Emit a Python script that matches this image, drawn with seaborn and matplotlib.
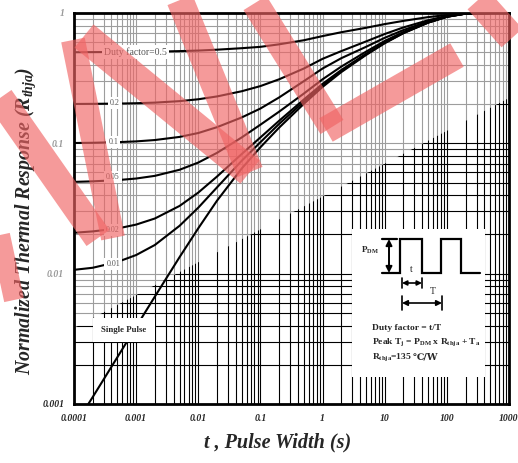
import numpy as np
import pandas as pd
import matplotlib
matplotlib.use('Agg')
import matplotlib.pyplot as plt
import seaborn as sns
from matplotlib.lines import Line2D
from matplotlib.patches import Polygon
from matplotlib.ticker import FixedLocator, LogLocator, NullFormatter

# pulse width grid (s)
t_grid = [1e-4, 2e-4, 5e-4, 1e-3, 2e-3, 5e-3, 1e-2, 2e-2, 5e-2, 0.1, 0.2, 0.5,
          1, 2, 5, 10, 20, 50, 100, 200, 500]

# normalized thermal response
d050 = [0.500, 0.501, 0.502, 0.503, 0.505, 0.510, 0.515, 0.523, 0.537, 0.550, 0.575, 0.618,
        0.665, 0.712, 0.770, 0.822, 0.870, 0.930, 0.965, 0.990, 1.0]
d020 = [0.2005, 0.2009, 0.2018, 0.2031, 0.2053, 0.2107, 0.2178, 0.229, 0.251, 0.275, 0.310, 0.375,
        0.445, 0.510, 0.605, 0.690, 0.775, 0.880, 0.950, 0.991, 1.0]
d010 = [0.1006, 0.1010, 0.1021, 0.1035, 0.1060, 0.112, 0.120, 0.133, 0.158, 0.185, 0.225, 0.300,
        0.375, 0.450, 0.550, 0.645, 0.740, 0.862, 0.943, 0.990, 1.0]
d005 = [0.0506, 0.0511, 0.0522, 0.0537, 0.0563, 0.0627, 0.0712, 0.0845, 0.111, 0.139, 0.175, 0.241,
        0.310, 0.388, 0.505, 0.610, 0.716, 0.851, 0.938, 0.990, 1.0]
d002 = [0.0206, 0.0211, 0.0222, 0.0238, 0.0265, 0.0331, 0.0419, 0.0556, 0.0828, 0.111, 0.149, 0.217,
        0.286, 0.365, 0.486, 0.594, 0.706, 0.846, 0.936, 0.989, 1.0]
d001 = [0.0107, 0.0111, 0.0123, 0.0139, 0.0166, 0.0233, 0.0321, 0.0459, 0.0735, 0.102, 0.141, 0.209,
        0.278, 0.358, 0.481, 0.590, 0.703, 0.845, 0.936, 0.989, 1.0]

t_single = [1.7e-4, 2e-4, 5e-4, 1e-3, 2e-3, 5e-3, 1e-2, 2e-2, 5e-2, 0.1, 0.2, 0.5,
            1, 2, 5, 10, 20, 50, 100, 200, 500]
single = [0.0010, 0.00113, 0.00229, 0.00391, 0.00667, 0.0134, 0.0223, 0.0363, 0.0641, 0.0933,
          0.132, 0.201, 0.271, 0.352, 0.476, 0.586, 0.700, 0.843, 0.935, 0.989, 1.0]

duty_labels = ['Duty factor=0.5', '0.2', '0.1', '0.05', '0.02', '0.01']
duty_label_t = [9.6e-4, 4.6e-4, 4.3e-4, 4.2e-4, 4.2e-4, 4.3e-4]
duty_label_y = [0.5, 0.205, 0.102, 0.055, 0.0215, 0.0118]

x_ticks = [1e-4, 1e-3, 1e-2, 1e-1, 1, 10, 100, 1000]
x_ticklabels = ['0.0001', '0.001', '0.01', '0.1', '1', '10', '100', '1000']
y_ticks = [1e-3, 1e-2, 1e-1, 1]
y_ticklabels = ['0.001', '0.01', '0.1', '1']

rows = []
for name, vals in zip(['0.5', '0.2', '0.1', '0.05', '0.02', '0.01'],
                      [d050, d020, d010, d005, d002, d001]):
    rows += [dict(series=name, t=a, z=b) for a, b in zip(t_grid, vals)]
rows += [dict(series='single', t=a, z=b) for a, b in zip(t_single, single)]
df = pd.DataFrame(rows)

sns.set_style('white')
plt.rcParams['font.family'] = ['Liberation Serif', 'DejaVu Serif']
plt.rcParams['mathtext.fontset'] = 'custom'
plt.rcParams['mathtext.rm'] = 'Liberation Serif:bold'
plt.rcParams['mathtext.it'] = 'Liberation Serif:italic:bold'
plt.rcParams['mathtext.bf'] = 'Liberation Serif:bold'

W, H = 518, 463
fig = plt.figure(figsize=(W / 100, H / 100), dpi=100)
ax = fig.add_axes([74 / W, 1 - 404 / H, 435 / W, 391 / H])

pal = {k: 'black' for k in df['series'].unique()}
sns.lineplot(data=df, x='t', y='z', hue='series', palette=pal, legend=False,
             linewidth=1.5, ax=ax, zorder=2)

ax.set_xscale('log')
ax.set_yscale('log')
ax.set_xlim(1e-4, 1000)
ax.set_ylim(1e-3, 1)
ax.xaxis.set_major_locator(FixedLocator(x_ticks))
ax.yaxis.set_major_locator(FixedLocator(y_ticks))
ax.xaxis.set_minor_locator(LogLocator(base=10, subs=np.arange(2, 10), numticks=100))
ax.yaxis.set_minor_locator(LogLocator(base=10, subs=np.arange(2, 10), numticks=100))
ax.xaxis.set_minor_formatter(NullFormatter())
ax.yaxis.set_minor_formatter(NullFormatter())
ax.set_xticklabels(x_ticklabels, fontsize=7, fontweight='bold', fontstyle='italic')
ax.set_yticklabels(y_ticklabels, fontsize=7, fontweight='bold', fontstyle='italic')
for lab in ax.get_yticklabels()[1:]:
    lab.set_color('#9a9a9a')
ax.tick_params(which='both', length=0, pad=7)
ax.grid(True, which='both', color='black', linewidth=0.8)
for s in ax.spines.values():
    s.set_linewidth(2)
    s.set_color('black')
ax.set_xlabel('')
ax.set_ylabel('')

# faded upper-left part of the scan
ax.add_patch(Polygon([(0, 0.194), (0, 1), (1, 1), (1, 0.783)], closed=True,
                     transform=ax.transAxes, facecolor='white', edgecolor='none',
                     alpha=0.62, zorder=1.2))

for i, (lab, tx, ty) in enumerate(zip(duty_labels, duty_label_t, duty_label_y)):
    ax.text(tx, ty, lab, fontsize=7 if i == 0 else 5.8, ha='center', va='center',
            color='#555555', bbox=dict(facecolor='white', edgecolor='none', pad=1.5), zorder=3)

ax.text(6.4e-4, 0.0037, 'Single Pulse', fontsize=6.3, fontweight='bold', ha='center',
        va='center', bbox=dict(facecolor='white', edgecolor='none', pad=6), zorder=3)

fig.text(278 / W, 1 - 442 / H, 't , Pulse Width (s)', fontsize=14.5, fontweight='bold',
         fontstyle='italic', ha='center', va='center')
fig.text(26 / W, 1 - 221 / H, r'Normalized Thermal Response (R$_{thja}$)', fontsize=14.3,
         fontweight='bold', fontstyle='italic', rotation=90, ha='center', va='center')

# inset with the pulse sketch
ins = fig.add_axes([352 / W, 1 - 377 / H, 133 / W, 148 / H])
ins.set_xlim(0, 133)
ins.set_ylim(148, 0)
ins.set_xticks([])
ins.set_yticks([])
for s in ins.spines.values():
    s.set_visible(False)
ins.set_facecolor('white')
ins.plot([30, 48, 48, 70, 70, 89, 89, 109, 109, 128], [44, 44, 10, 10, 44, 44, 10, 10, 44, 44],
         color='black', lw=1.6, solid_joinstyle='miter')
ins.plot([30, 45], [10, 10], color='black', lw=1.6)
ins.annotate('', xy=(37, 10), xytext=(37, 44),
             arrowprops=dict(arrowstyle='<|-|>', color='black', lw=1.4, mutation_scale=9,
                             shrinkA=0, shrinkB=0))
ins.text(18, 21, r'P$_{\mathrm{DM}}$', fontsize=6.5, fontweight='bold', ha='center', va='center')
ins.annotate('', xy=(70, 54), xytext=(50, 54),
             arrowprops=dict(arrowstyle='<|-|>', color='black', lw=1.2, mutation_scale=7,
                             shrinkA=0, shrinkB=0))
ins.plot([50, 50], [49, 59], color='black', lw=1.2)
ins.plot([70, 70], [49, 59], color='black', lw=1.2)
ins.text(59, 41, 't', fontsize=7, ha='center', va='center')
ins.annotate('', xy=(90, 74), xytext=(50, 74),
             arrowprops=dict(arrowstyle='<|-|>', color='black', lw=1.2, mutation_scale=8,
                             shrinkA=0, shrinkB=0))
ins.plot([50, 50], [67, 81], color='black', lw=1.2)
ins.plot([90, 90], [67, 81], color='black', lw=1.2)
ins.text(81, 63, 'T', fontsize=7, ha='center', va='center')
ins.text(20, 99, 'Duty factor = t/T', fontsize=6.8, fontweight='bold', va='center')
ins.text(20, 113, r'Peak T$_{\mathrm{j}}$ = P$_{\mathrm{DM}}$ x R$_{\mathrm{thja}}$ + T$_{\mathrm{a}}$',
         fontsize=6.8, fontweight='bold', va='center')
rt = ins.text(20, 128, r'R$_{\mathrm{thja}}$=135 ', fontsize=6.8, fontweight='bold', va='center')
ins.annotate('℃/W', xy=(1, 0.5), xycoords=rt, va='center', ha='left', fontsize=6.8,
             fontweight='bold', family=['DejaVu Serif', 'DejaVu Sans'])

# red watermark strokes (pixel positions on the page)
strokes = [((0, 98), (98, 238), 28), ((73, 40), (113, 238), 24), ((84, 36), (250, 172), 30),
           ((180, 0), (250, 172), 27), ((255, 3), (332, 127), 27), ((326, 130), (457, 55), 27),
           ((478, 0), (512, 38), 28), ((0, 235), (14, 300), 20)]
for (x0, y0), (x1, y1), w in strokes:
    fig.add_artist(Line2D([x0 / W, x1 / W], [1 - y0 / H, 1 - y1 / H], transform=fig.transFigure,
                          color='#f06464', alpha=0.65, lw=w * 0.72, solid_capstyle='butt',
                          zorder=6))

fig.savefig('out.png', dpi=100)
